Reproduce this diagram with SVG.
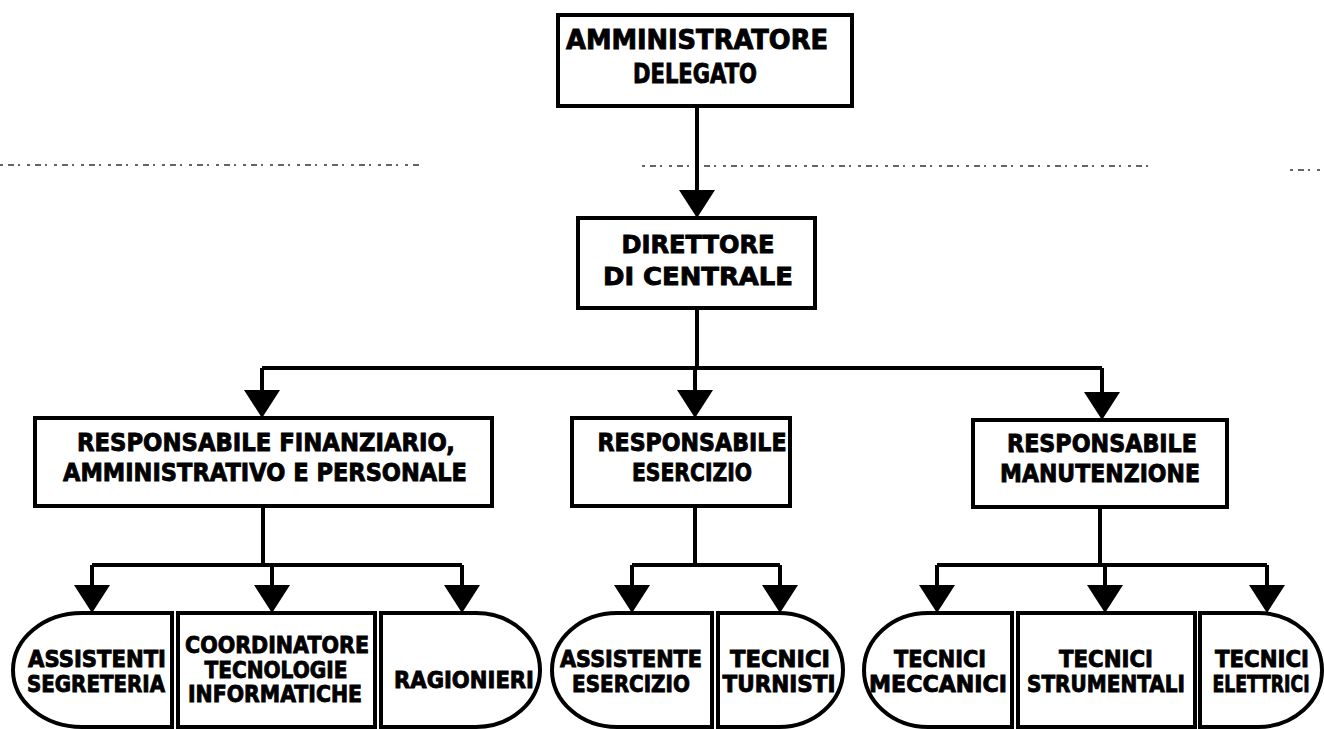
<svg xmlns="http://www.w3.org/2000/svg" width="1324" height="729" viewBox="0 0 1324 729">
  <style>
    .box { fill: #ffffff; stroke: #000000; stroke-width: 4; }
    .lbl { font-family: "DejaVu Sans", Verdana, sans-serif; font-weight: bold; fill: #000000; stroke: #000000; stroke-width: 0.9; text-anchor: middle; }
    .big { font-size: 26px; }
    .mid { font-size: 25px; }
    .small { font-size: 23px; }
    .wire { fill: none; stroke: #000000; stroke-width: 4; }
    .fold { fill: none; stroke: #333333; stroke-width: 1.6; stroke-dasharray: 3 5 6 4 2 7; }
  </style>
  <defs>
    <marker id="head" viewBox="0 -18 28 36" refX="0" refY="0" markerWidth="28" markerHeight="36" markerUnits="userSpaceOnUse" orient="auto">
      <path d="M0,-18 L28,0 L0,18 Z" fill="#000000"/>
    </marker>
  </defs>

  <rect width="1324" height="729" fill="#ffffff"/>

  <!-- faint dashed fold lines -->
  <g id="fold-lines">
    <path class="fold" d="M0,165 H420"/>
    <path class="fold" d="M642,166 H1152"/>
    <path class="fold" d="M1290,170 H1324"/>
  </g>

  <!-- connectors -->
  <g id="connectors">
    <path class="wire" d="M697,106 V190" marker-end="url(#head)"/>
    <path class="wire" d="M697,308 V368"/>
    <path class="wire" d="M262,368 H1102"/>
    <path class="wire" d="M262,368 V390" marker-end="url(#head)"/>
    <path class="wire" d="M695,368 V390" marker-end="url(#head)"/>
    <path class="wire" d="M1102,368 V392" marker-end="url(#head)"/>

    <path class="wire" d="M263,506 V565"/>
    <path class="wire" d="M92,565 H462"/>
    <path class="wire" d="M92,565 V585" marker-end="url(#head)"/>
    <path class="wire" d="M272,565 V585" marker-end="url(#head)"/>
    <path class="wire" d="M462,565 V585" marker-end="url(#head)"/>

    <path class="wire" d="M695,506 V565"/>
    <path class="wire" d="M632,565 H780"/>
    <path class="wire" d="M632,565 V585" marker-end="url(#head)"/>
    <path class="wire" d="M780,565 V585" marker-end="url(#head)"/>

    <path class="wire" d="M1100,507 V565"/>
    <path class="wire" d="M937,565 H1267"/>
    <path class="wire" d="M937,565 V585" marker-end="url(#head)"/>
    <path class="wire" d="M1105,565 V585" marker-end="url(#head)"/>
    <path class="wire" d="M1267,565 V585" marker-end="url(#head)"/>
  </g>

  <!-- level 0 -->
  <g id="amministratore">
    <rect class="box" x="558" y="15" width="294" height="91"/>
    <text class="lbl big" x="697" y="49" textLength="262" lengthAdjust="spacingAndGlyphs">AMMINISTRATORE</text>
    <text class="lbl big" x="695" y="83" textLength="124" lengthAdjust="spacingAndGlyphs">DELEGATO</text>
  </g>

  <!-- level 1 -->
  <g id="direttore">
    <rect class="box" x="578" y="218" width="237" height="90"/>
    <text class="lbl mid" x="698" y="253" textLength="153" lengthAdjust="spacingAndGlyphs">DIRETTORE</text>
    <text class="lbl mid" x="698" y="285" textLength="190" lengthAdjust="spacingAndGlyphs">DI CENTRALE</text>
  </g>

  <!-- level 2 -->
  <g id="resp-finanziario">
    <rect class="box" x="35" y="418" width="457" height="88"/>
    <text class="lbl mid" x="266" y="451" textLength="378" lengthAdjust="spacingAndGlyphs">RESPONSABILE FINANZIARIO,</text>
    <text class="lbl mid" x="265" y="481" textLength="404" lengthAdjust="spacingAndGlyphs">AMMINISTRATIVO E PERSONALE</text>
  </g>
  <g id="resp-esercizio">
    <rect class="box" x="572" y="418" width="218" height="88"/>
    <text class="lbl mid" x="692" y="451" textLength="189" lengthAdjust="spacingAndGlyphs">RESPONSABILE</text>
    <text class="lbl mid" x="692" y="481" textLength="120" lengthAdjust="spacingAndGlyphs">ESERCIZIO</text>
  </g>
  <g id="resp-manutenzione">
    <rect class="box" x="973" y="420" width="254" height="87"/>
    <text class="lbl mid" x="1102" y="452" textLength="190" lengthAdjust="spacingAndGlyphs">RESPONSABILE</text>
    <text class="lbl mid" x="1100" y="482" textLength="200" lengthAdjust="spacingAndGlyphs">MANUTENZIONE</text>
  </g>

  <!-- level 3 -->
  <g id="assistenti-segreteria">
    <path class="box" d="M172,613 H82 A69,57 0 0 0 82,727 H172 Z"/>
    <text class="lbl small" x="97" y="667" textLength="138" lengthAdjust="spacingAndGlyphs">ASSISTENTI</text>
    <text class="lbl small" x="96" y="692" textLength="138" lengthAdjust="spacingAndGlyphs">SEGRETERIA</text>
  </g>
  <g id="coordinatore">
    <rect class="box" x="178" y="613" width="197" height="114"/>
    <text class="lbl small" x="277" y="653" textLength="184" lengthAdjust="spacingAndGlyphs">COORDINATORE</text>
    <text class="lbl small" x="276" y="678" textLength="143" lengthAdjust="spacingAndGlyphs">TECNOLOGIE</text>
    <text class="lbl small" x="275" y="702" textLength="174" lengthAdjust="spacingAndGlyphs">INFORMATICHE</text>
  </g>
  <g id="ragionieri">
    <path class="box" d="M381,613 H476 A64,57 0 0 1 476,727 H381 Z"/>
    <text class="lbl small" x="464" y="688" textLength="140" lengthAdjust="spacingAndGlyphs">RAGIONIERI</text>
  </g>
  <g id="assistente-esercizio">
    <path class="box" d="M712,613 H617 A65,57 0 0 0 617,727 H712 Z"/>
    <text class="lbl small" x="631" y="667" textLength="142" lengthAdjust="spacingAndGlyphs">ASSISTENTE</text>
    <text class="lbl small" x="631" y="692" textLength="118" lengthAdjust="spacingAndGlyphs">ESERCIZIO</text>
  </g>
  <g id="tecnici-turnisti">
    <path class="box" d="M718,613 H779 A64,57 0 0 1 779,727 H718 Z"/>
    <text class="lbl small" x="780" y="667" textLength="100" lengthAdjust="spacingAndGlyphs">TECNICI</text>
    <text class="lbl small" x="779" y="692" textLength="113" lengthAdjust="spacingAndGlyphs">TURNISTI</text>
  </g>
  <g id="tecnici-meccanici">
    <path class="box" d="M1012,613 H928 A64,57 0 0 0 928,727 H1012 Z"/>
    <text class="lbl small" x="940" y="667" textLength="92" lengthAdjust="spacingAndGlyphs">TECNICI</text>
    <text class="lbl small" x="938" y="692" textLength="138" lengthAdjust="spacingAndGlyphs">MECCANICI</text>
  </g>
  <g id="tecnici-strumentali">
    <rect class="box" x="1018" y="613" width="177" height="114"/>
    <text class="lbl small" x="1106" y="667" textLength="94" lengthAdjust="spacingAndGlyphs">TECNICI</text>
    <text class="lbl small" x="1106" y="692" textLength="158" lengthAdjust="spacingAndGlyphs">STRUMENTALI</text>
  </g>
  <g id="tecnici-elettrici">
    <path class="box" d="M1200,613 H1258 A64,57 0 0 1 1258,727 H1200 Z"/>
    <text class="lbl small" x="1262" y="667" textLength="94" lengthAdjust="spacingAndGlyphs">TECNICI</text>
    <text class="lbl small" transform="translate(1261,692) scale(0.75,1)" x="0" y="0">ELETTRICI</text>
  </g>
</svg>
